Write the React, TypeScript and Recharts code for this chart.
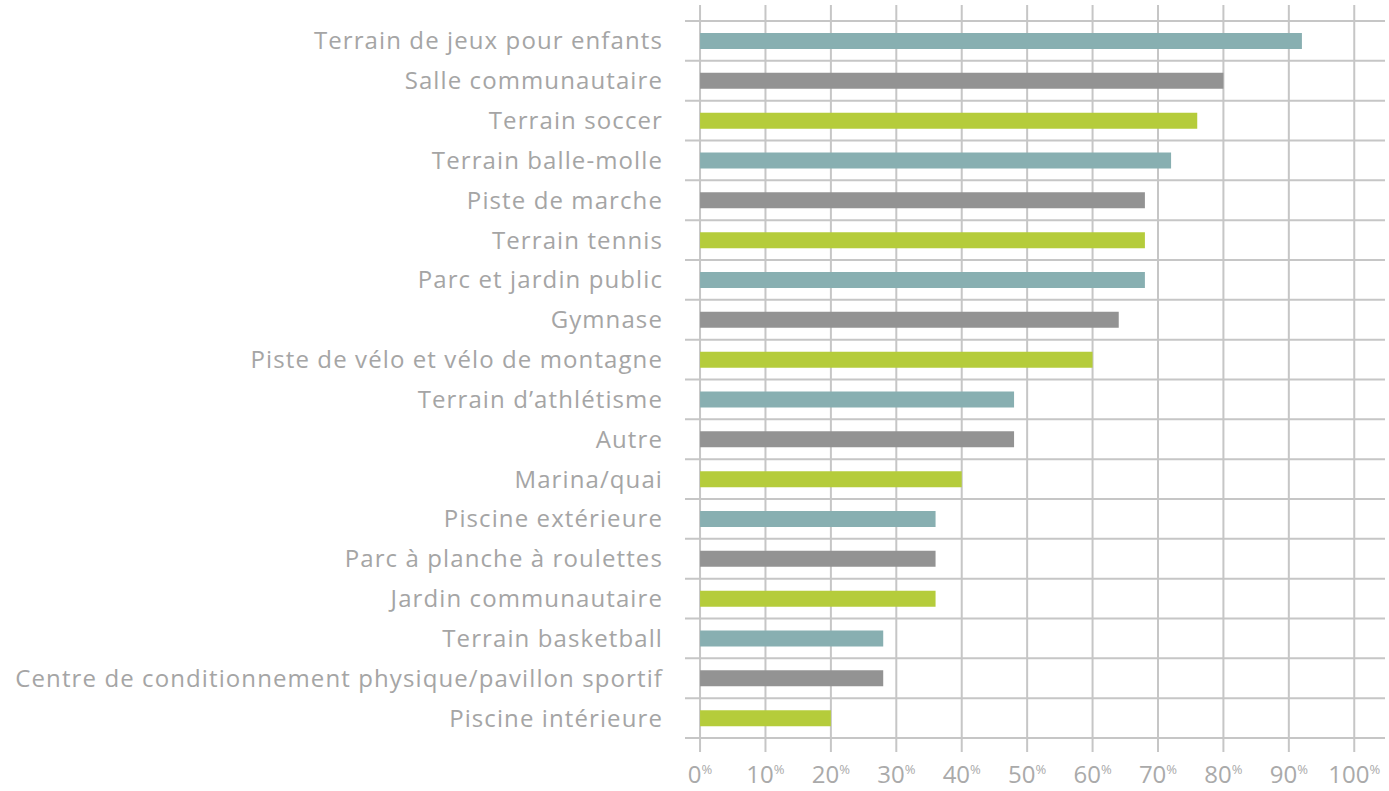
import { BarChart, Bar, XAxis, YAxis, CartesianGrid, Cell } from "recharts";

const categories = [
  "Terrain de jeux pour enfants",
  "Salle communautaire",
  "Terrain soccer",
  "Terrain balle-molle",
  "Piste de marche",
  "Terrain tennis",
  "Parc et jardin public",
  "Gymnase",
  "Piste de vélo et vélo de montagne",
  "Terrain d\u2019athlétisme",
  "Autre",
  "Marina/quai",
  "Piscine extérieure",
  "Parc à planche à roulettes",
  "Jardin communautaire",
  "Terrain basketball",
  "Centre de conditionnement physique/pavillon sportif",
  "Piscine intérieure",
];

const values = [92, 80, 76, 72, 68, 68, 68, 64, 60, 48, 48, 40, 36, 36, 36, 28, 28, 20];

const ticks = [0, 10, 20, 30, 40, 50, 60, 70, 80, 90, 100];

const palette = ["#88afb1", "#939393", "#b5cc3b"];

const data = categories.map((name, i) => ({ name, value: values[i] }));

const domain: [number, number] = [-2.3, 104.7];

const TEXT = "#a5a5a5";
const GRID = "#c6c6c6";
const FONT = "'Open Sans', sans-serif";

function PercentTick(props: any) {
  const { x, y, payload } = props;
  return (
    <text x={x} y={y + 29} textAnchor="middle" fill="#aaaaaa" fontFamily={FONT}>
      <tspan fontSize={24}>{payload.value}</tspan>
      <tspan fontSize={13} dy={-9}>%</tspan>
    </text>
  );
}

// lines between the rows
function rowLines({ offset }: any) {
  const lines: number[] = [];
  const step = offset.height / categories.length;
  for (let i = 0; i <= categories.length; i++) lines.push(offset.top + i * step);
  return lines;
}

// only at the 10% ticks, not at the plot edges
function tickLines({ offset }: any) {
  const span = domain[1] - domain[0];
  return ticks.map((t) => offset.left + ((t - domain[0]) / span) * offset.width);
}

export default function App() {
  return (
    <div style={{ position: "absolute", left: 0, top: 0, width: 1389, height: 791, background: "#fff" }}>
      <BarChart
        width={1389}
        height={791}
        data={data}
        layout="vertical"
        margin={{ top: 5, right: 4, bottom: 0, left: 0 }}
      >
        <CartesianGrid
          stroke={GRID}
          strokeWidth={2}
          horizontalCoordinatesGenerator={rowLines}
          verticalCoordinatesGenerator={tickLines}
        />
        <XAxis
          type="number"
          domain={domain}
          ticks={ticks}
          allowDataOverflow
          axisLine={false}
          tickLine={{ stroke: GRID, strokeWidth: 2 }}
          tickSize={14}
          height={53}
          tick={<PercentTick />}
        />
        <XAxis
          xAxisId="top"
          orientation="top"
          type="number"
          domain={domain}
          ticks={ticks}
          allowDataOverflow
          axisLine={false}
          tickLine={{ stroke: GRID, strokeWidth: 2 }}
          tickSize={16}
          height={16}
          tickFormatter={() => ""}
        />
        <YAxis
          type="category"
          dataKey="name"
          width={685}
          axisLine={false}
          tickLine={false}
          tickSize={0}
          tickMargin={22}
          interval={0}
          tick={{ fill: TEXT, fontSize: 24, fontFamily: FONT, letterSpacing: 1.1 }}
        />
        <Bar dataKey="value" barSize={16} isAnimationActive={false}>
          {data.map((d, i) => (
            <Cell key={d.name} fill={palette[i % 3]} />
          ))}
        </Bar>
      </BarChart>
    </div>
  );
}
